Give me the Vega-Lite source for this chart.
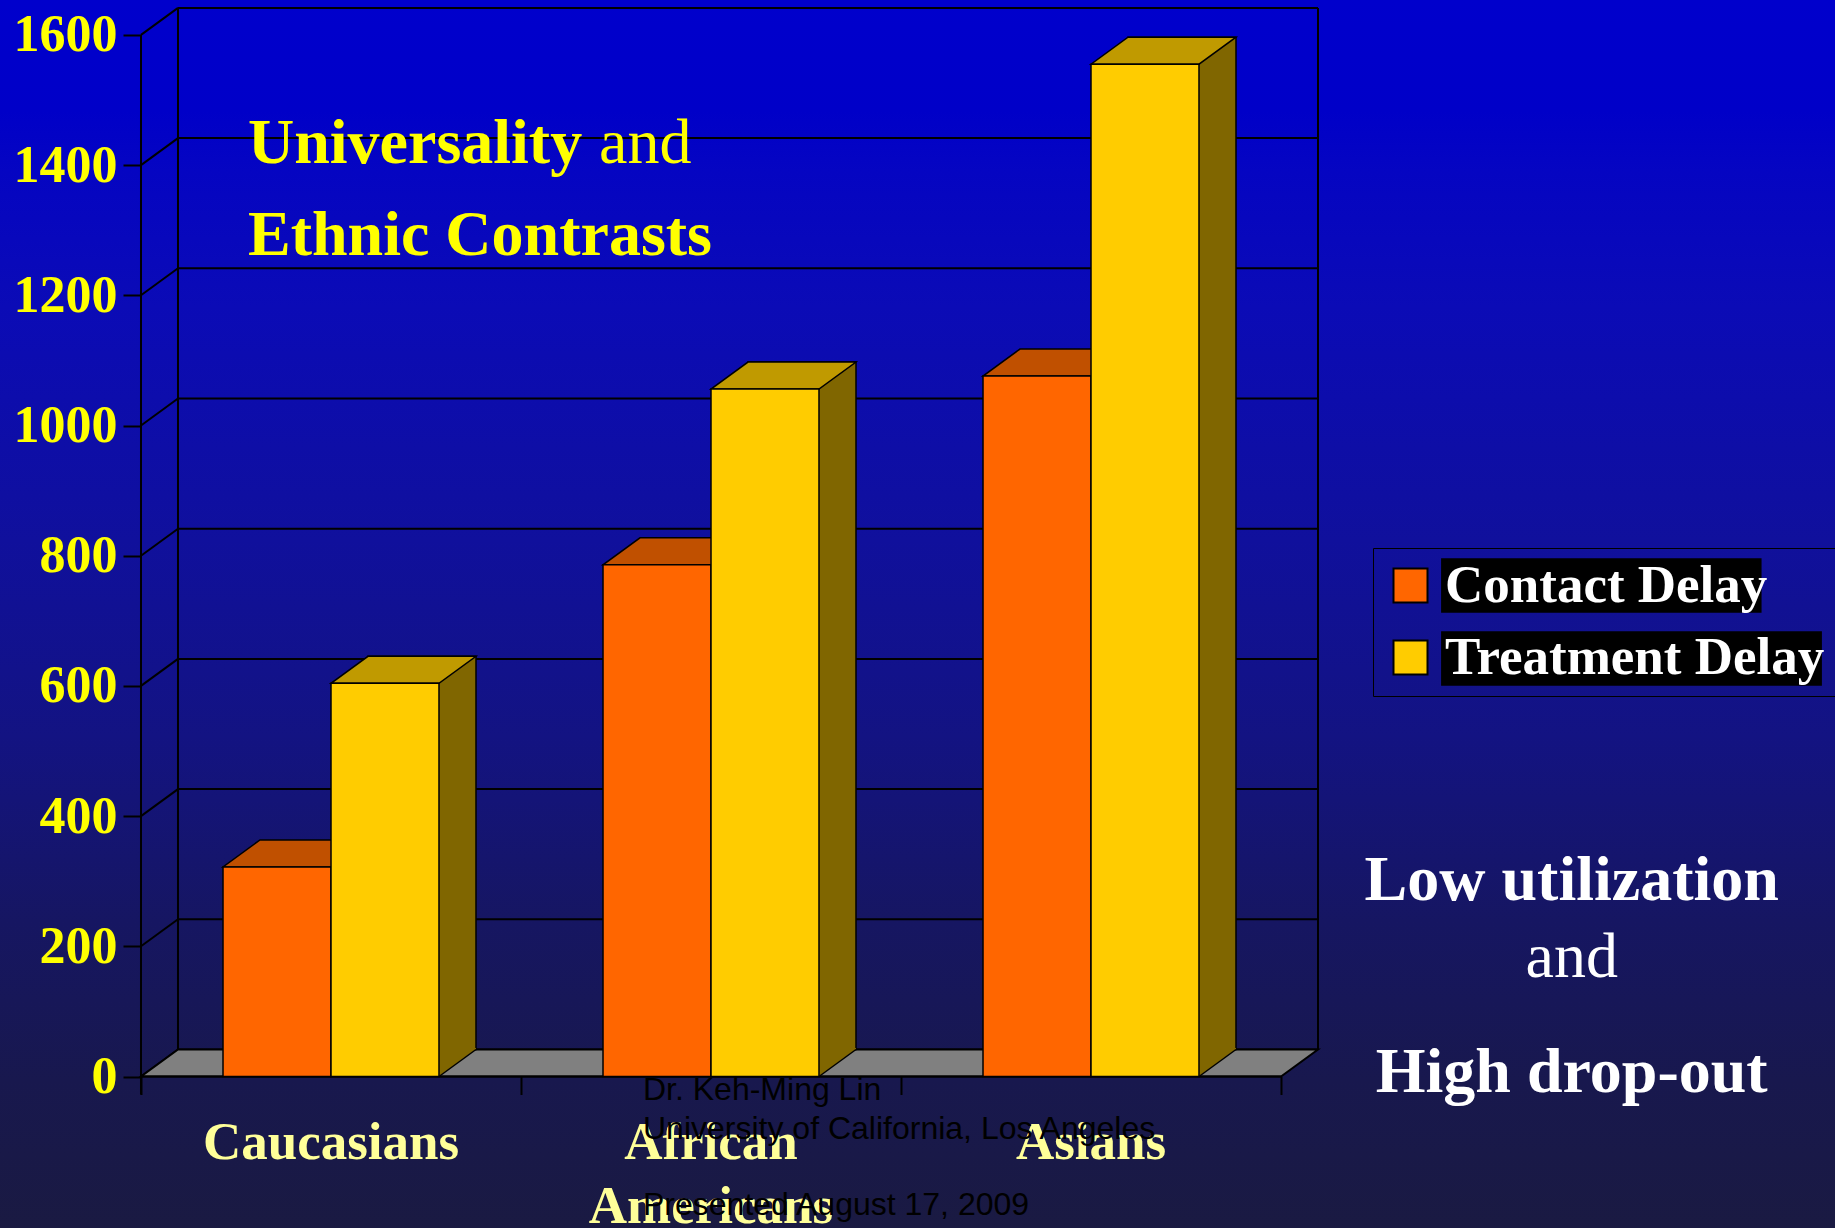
{
  "$schema": "https://vega.github.io/schema/vega-lite/v6.json",
  "width": 1835,
  "height": 1228,
  "autosize": {"type": "none"},
  "padding": 0,
  "background": "#12127a",
  "view": {
    "stroke": null,
    "fill": {
      "gradient": "linear", "x1": 0, "y1": 0, "x2": 0, "y2": 1,
      "stops": [
        {"offset": 0, "color": "#0000cc"},
        {"offset": 0.09, "color": "#0000c8"},
        {"offset": 0.14, "color": "#0505c2"},
        {"offset": 0.25, "color": "#0b0bb6"},
        {"offset": 0.44, "color": "#10109c"},
        {"offset": 0.6, "color": "#131382"},
        {"offset": 0.75, "color": "#161662"},
        {"offset": 0.88, "color": "#18184e"},
        {"offset": 1, "color": "#1a1a42"}
      ]
    }
  },
  "config": {"font": "Liberation Serif"},
  "datasets": {
    "bars": [
      {"group": "Caucasians", "series": "Contact Delay", "value": 322},
      {"group": "Caucasians", "series": "Treatment Delay", "value": 604},
      {"group": "African Americans", "series": "Contact Delay", "value": 786},
      {"group": "African Americans", "series": "Treatment Delay", "value": 1056},
      {"group": "Asians", "series": "Contact Delay", "value": 1076},
      {"group": "Asians", "series": "Treatment Delay", "value": 1555}
    ],
    "ticks": [
      {"v": 0}, {"v": 200}, {"v": 400}, {"v": 600}, {"v": 800},
      {"v": 1000}, {"v": 1200}, {"v": 1400}, {"v": 1600}
    ],
    "series": [
      {"series": "Contact Delay"},
      {"series": "Treatment Delay"}
    ]
  },
  "resolve": {"scale": {"x": "independent"}},
  "layer": [
    {
      "layer": [
        {
          "data": {"name": "ticks"},
          "mark": {"type": "rule", "color": "black", "strokeWidth": 2, "xOffset": 37, "x2Offset": 37, "yOffset": -27},
          "encoding": {
            "x": {"datum": 0, "type": "quantitative", "scale": {"domain": [-0.37105, 4.45789], "nice": false, "zero": false},
              "axis": {"values": [0, 1, 2, 3], "labels": false, "ticks": true, "tickSize": 18, "tickColor": "black", "tickWidth": 2, "domain": false, "grid": false, "title": null, "orient": "bottom", "offset": -151.5}},
            "x2": {"datum": 3},
            "y": {"field": "v", "type": "quantitative", "scale": {"domain": [-232.7, 1653.6], "nice": false, "zero": false},
              "axis": {"values": [0, 200, 400, 600, 800, 1000, 1200, 1400, 1600], "format": "d", "offset": -141, "domain": false, "grid": false, "ticks": true, "tickColor": "black", "tickWidth": 2, "tickSize": 18, "labelPadding": 6, "labelColor": "#ffff00", "labelFont": "Liberation Serif", "labelFontWeight": "bold", "labelFontSize": 52, "labelOverlap": false, "labelBound": false, "labelFlush": false, "title": null}}
          }
        },
        {
          "data": {"name": "ticks"},
          "mark": {"type": "rule", "color": "black", "strokeWidth": 2, "x2Offset": 37, "y2Offset": -27},
          "encoding": {
            "x": {"datum": 0, "type": "quantitative", "scale": {"domain": [-0.37105, 4.45789], "nice": false, "zero": false}},
            "x2": {"datum": 0},
            "y": {"field": "v", "type": "quantitative", "scale": {"domain": [-232.7, 1653.6], "nice": false, "zero": false}},
            "y2": {"field": "v"}
          }
        },
        {
          "data": {"values": [{}]},
          "mark": {"type": "rule", "color": "black", "strokeWidth": 2, "xOffset": 37, "yOffset": -27, "y2Offset": -27},
          "encoding": {
            "x": {"datum": 0, "type": "quantitative", "scale": {"domain": [-0.37105, 4.45789], "nice": false, "zero": false}},
            "y": {"datum": 0, "type": "quantitative", "scale": {"domain": [-232.7, 1653.6], "nice": false, "zero": false}},
            "y2": {"datum": 1600}
          }
        },
        {
          "data": {"values": [{}]},
          "mark": {"type": "rule", "color": "black", "strokeWidth": 2, "xOffset": 37, "yOffset": -27, "y2Offset": -27},
          "encoding": {
            "x": {"datum": 3, "type": "quantitative", "scale": {"domain": [-0.37105, 4.45789], "nice": false, "zero": false}},
            "y": {"datum": 0, "type": "quantitative", "scale": {"domain": [-232.7, 1653.6], "nice": false, "zero": false}},
            "y2": {"datum": 1600}
          }
        },
        {
          "data": {"values": [{}]},
          "mark": {"type": "point", "shape": "M0,0L1140,0L1177,-27L37,-27Z", "size": 4, "filled": true, "fill": "#808080", "stroke": "black", "strokeWidth": 2, "opacity": 1},
          "encoding": {
            "x": {"datum": 0, "type": "quantitative", "scale": {"domain": [-0.37105, 4.45789], "nice": false, "zero": false}},
            "y": {"datum": 0, "type": "quantitative", "scale": {"domain": [-232.7, 1653.6], "nice": false, "zero": false}}
          }
        },
        {
          "data": {"values": [{}]},
          "mark": {"type": "rule", "color": "black", "strokeWidth": 2, "y2Offset": 18},
          "encoding": {
            "x": {"datum": 0, "type": "quantitative", "scale": {"domain": [-0.37105, 4.45789], "nice": false, "zero": false}},
            "y": {"datum": 1600, "type": "quantitative", "scale": {"domain": [-232.7, 1653.6], "nice": false, "zero": false}},
            "y2": {"datum": 0}
          }
        },
        {
          "data": {"values": [{}]},
          "mark": {"type": "rule", "color": "black", "strokeWidth": 2},
          "encoding": {
            "x": {"datum": 0, "type": "quantitative", "scale": {"domain": [-0.37105, 4.45789], "nice": false, "zero": false}},
            "x2": {"datum": 3},
            "y": {"datum": 0, "type": "quantitative", "scale": {"domain": [-232.7, 1653.6], "nice": false, "zero": false}}
          }
        },
        {
          "data": {"values": [{}]},
          "mark": {"type": "text", "text": "Universality", "align": "left", "baseline": "alphabetic", "font": "Liberation Serif", "fontWeight": "bold", "fontSize": 64, "color": "#ffff00"},
          "encoding": {
            "x": {"datum": 0.28158, "type": "quantitative", "scale": {"domain": [-0.37105, 4.45789], "nice": false, "zero": false}},
            "y": {"datum": 1403.3, "type": "quantitative", "scale": {"domain": [-232.7, 1653.6], "nice": false, "zero": false}}
          }
        },
        {
          "data": {"values": [{}]},
          "mark": {"type": "text", "text": "and", "align": "left", "baseline": "alphabetic", "font": "Liberation Serif", "fontWeight": "normal", "fontSize": 64, "color": "#ffff00"},
          "encoding": {
            "x": {"datum": 1.20526, "type": "quantitative", "scale": {"domain": [-0.37105, 4.45789], "nice": false, "zero": false}},
            "y": {"datum": 1403.3, "type": "quantitative", "scale": {"domain": [-232.7, 1653.6], "nice": false, "zero": false}}
          }
        },
        {
          "data": {"values": [{}]},
          "mark": {"type": "text", "text": "Ethnic Contrasts", "align": "left", "baseline": "alphabetic", "font": "Liberation Serif", "fontWeight": "bold", "fontSize": 64, "color": "#ffff00"},
          "encoding": {
            "x": {"datum": 0.28158, "type": "quantitative", "scale": {"domain": [-0.37105, 4.45789], "nice": false, "zero": false}},
            "y": {"datum": 1261.9, "type": "quantitative", "scale": {"domain": [-232.7, 1653.6], "nice": false, "zero": false}}
          }
        },
        {
          "data": {"values": [{}]},
          "mark": {"type": "text", "text": "Low utilization", "align": "center", "baseline": "alphabetic", "font": "Liberation Serif", "fontWeight": "bold", "fontSize": 64, "color": "white"},
          "encoding": {
            "x": {"datum": 3.765, "type": "quantitative", "scale": {"domain": [-0.37105, 4.45789], "nice": false, "zero": false}},
            "y": {"datum": 271.1, "type": "quantitative", "scale": {"domain": [-232.7, 1653.6], "nice": false, "zero": false}}
          }
        },
        {
          "data": {"values": [{}]},
          "mark": {"type": "text", "text": "and", "align": "center", "baseline": "alphabetic", "font": "Liberation Serif", "fontWeight": "normal", "fontSize": 64, "color": "white"},
          "encoding": {
            "x": {"datum": 3.765, "type": "quantitative", "scale": {"domain": [-0.37105, 4.45789], "nice": false, "zero": false}},
            "y": {"datum": 152.8, "type": "quantitative", "scale": {"domain": [-232.7, 1653.6], "nice": false, "zero": false}}
          }
        },
        {
          "data": {"values": [{}]},
          "mark": {"type": "text", "text": "High drop-out", "align": "center", "baseline": "alphabetic", "font": "Liberation Serif", "fontWeight": "bold", "fontSize": 64, "color": "white"},
          "encoding": {
            "x": {"datum": 3.765, "type": "quantitative", "scale": {"domain": [-0.37105, 4.45789], "nice": false, "zero": false}},
            "y": {"datum": -23.8, "type": "quantitative", "scale": {"domain": [-232.7, 1653.6], "nice": false, "zero": false}}
          }
        },
        {
          "data": {"values": [{}]},
          "mark": {"type": "text", "text": ["Dr. Keh-Ming Lin", "University of California, Los Angeles"], "lineHeight": 38.5, "align": "left", "baseline": "alphabetic", "font": "Liberation Sans", "fontWeight": "normal", "fontSize": 32, "color": "black"},
          "encoding": {
            "x": {"datum": 1.32105, "type": "quantitative", "scale": {"domain": [-0.37105, 4.45789], "nice": false, "zero": false}},
            "y": {"datum": -36.1, "type": "quantitative", "scale": {"domain": [-232.7, 1653.6], "nice": false, "zero": false}}
          }
        },
        {
          "data": {"values": [{}]},
          "mark": {"type": "text", "text": "Presented August 17, 2009", "align": "left", "baseline": "alphabetic", "font": "Liberation Sans", "fontWeight": "normal", "fontSize": 32, "color": "black"},
          "encoding": {
            "x": {"datum": 1.32105, "type": "quantitative", "scale": {"domain": [-0.37105, 4.45789], "nice": false, "zero": false}},
            "y": {"datum": -212.7, "type": "quantitative", "scale": {"domain": [-232.7, 1653.6], "nice": false, "zero": false}}
          }
        },
        {
          "data": {"name": "series"},
          "mark": {"type": "point", "filled": true, "color": "black", "opacity": 1, "size": 100},
          "encoding": {
            "x": {"datum": 0, "type": "quantitative", "scale": {"domain": [-0.37105, 4.45789], "nice": false, "zero": false}},
            "y": {"datum": -5000, "type": "quantitative", "scale": {"domain": [-232.7, 1653.6], "nice": false, "zero": false}},
            "shape": {
              "field": "series", "type": "nominal",
              "scale": {"range": [
                "M-1.0588,-1.6L-1.0588,1.6M1.8,-1.6L20.65,-1.6L20.65,1.6L1.8,1.6Z",
                "M-1.0588,-1.6L-1.0588,1.6M1.8,-1.6L24.2,-1.6L24.2,1.6L1.8,1.6Z"
              ]},
              "legend": {"title": null, "orient": "none", "legendX": 1373, "legendY": 548, "symbolSize": 1156, "symbolFillColor": "black", "symbolStrokeWidth": 0, "labelFont": "Liberation Serif", "labelFontWeight": "bold", "labelFontSize": 53, "labelOpacity": 0, "labelOffset": 8, "labelLimit": 800, "rowPadding": 18, "padding": 11, "zindex": 0}
            }
          }
        }
      ]
    },
    {
      "layer": [
        {
          "data": {"name": "bars"},
          "transform": [{"filter": "datum.series === 'Treatment Delay'"}],
          "mark": {"type": "bar", "width": {"band": 0.5}, "xOffset": 91, "yOffset": -27, "y2Offset": -27, "color": "#806600", "stroke": "black", "strokeWidth": 1.5},
          "encoding": {
            "x": {"field": "group", "type": "nominal", "scale": {"domain": ["Caucasians", "African Americans", "Asians"], "range": [141, 1281], "paddingInner": 0.4316, "paddingOuter": 0.2158}},
            "y": {"field": "value", "type": "quantitative", "scale": {"domain": [-232.7, 1653.6], "nice": false, "zero": false}},
            "y2": {"datum": 0}
          }
        },
        {
          "data": {"name": "bars"},
          "transform": [{"filter": "datum.series === 'Treatment Delay'"}],
          "mark": {"type": "point", "shape": "M108,-28.5L145,-28.5L145,-27L108,0Z", "size": 4, "filled": true, "color": "#806600", "strokeOpacity": 0, "opacity": 1},
          "encoding": {
            "x": {"field": "group", "type": "nominal", "scale": {"domain": ["Caucasians", "African Americans", "Asians"], "range": [141, 1281], "paddingInner": 0.4316, "paddingOuter": 0.2158}},
            "y": {"datum": 0, "type": "quantitative", "scale": {"domain": [-232.7, 1653.6], "nice": false, "zero": false}}
          }
        },
        {
          "data": {"name": "bars"},
          "transform": [{"filter": "datum.series === 'Treatment Delay'"}],
          "mark": {"type": "point", "shape": "M108,0L145,-27", "size": 4, "filled": false, "color": "black", "strokeWidth": 1.5, "opacity": 1},
          "encoding": {
            "x": {"field": "group", "type": "nominal", "scale": {"domain": ["Caucasians", "African Americans", "Asians"], "range": [141, 1281], "paddingInner": 0.4316, "paddingOuter": 0.2158}},
            "y": {"datum": 0, "type": "quantitative", "scale": {"domain": [-232.7, 1653.6], "nice": false, "zero": false}}
          }
        },
        {
          "data": {"name": "bars"},
          "transform": [{"filter": "datum.series === 'Contact Delay'"}],
          "mark": {"type": "point", "shape": "M-108,0L0,0L37,-27L-71,-27Z", "size": 4, "filled": true, "fill": "#c05000", "stroke": "black", "strokeWidth": 1.5, "opacity": 1},
          "encoding": {
            "x": {"field": "group", "type": "nominal", "scale": {"domain": ["Caucasians", "African Americans", "Asians"], "range": [141, 1281], "paddingInner": 0.4316, "paddingOuter": 0.2158}},
            "y": {"field": "value", "type": "quantitative", "scale": {"domain": [-232.7, 1653.6], "nice": false, "zero": false}}
          }
        },
        {
          "data": {"name": "bars"},
          "transform": [{"filter": "datum.series === 'Treatment Delay'"}],
          "mark": {"type": "point", "shape": "M0,0L108,0L145,-27L37,-27Z", "size": 4, "filled": true, "fill": "#c09a00", "stroke": "black", "strokeWidth": 1.5, "opacity": 1},
          "encoding": {
            "x": {"field": "group", "type": "nominal", "scale": {"domain": ["Caucasians", "African Americans", "Asians"], "range": [141, 1281], "paddingInner": 0.4316, "paddingOuter": 0.2158}},
            "y": {"field": "value", "type": "quantitative", "scale": {"domain": [-232.7, 1653.6], "nice": false, "zero": false}}
          }
        },
        {
          "data": {"name": "bars"},
          "mark": {"type": "bar", "stroke": "black", "strokeWidth": 1.5, "opacity": 1},
          "encoding": {
            "x": {"field": "group", "type": "nominal", "scale": {"domain": ["Caucasians", "African Americans", "Asians"], "range": [141, 1281], "paddingInner": 0.4316, "paddingOuter": 0.2158},
              "axis": {"title": null, "orient": "bottom", "offset": -151.5, "domain": false, "ticks": false, "tickSize": 0, "grid": false, "labelAngle": 0, "labelAlign": "center", "labelColor": "#ffff99", "labelFont": "Liberation Serif", "labelFontWeight": "bold", "labelFontSize": 53, "labelBaseline": "alphabetic", "labelPadding": 81.5, "labelLineHeight": 64, "labelLimit": 600, "labelOverlap": false, "labelBound": false, "labelFlush": false,
                "labelExpr": "datum.value == 'African Americans' ? ['African', 'Americans'] : datum.label"}},
            "xOffset": {"field": "series", "type": "nominal", "scale": {"domain": ["Contact Delay", "Treatment Delay"], "paddingInner": 0, "paddingOuter": 0}},
            "y": {"field": "value", "type": "quantitative", "scale": {"domain": [-232.7, 1653.6], "nice": false, "zero": false}},
            "y2": {"datum": 0},
            "color": {"field": "series", "type": "nominal",
              "scale": {"domain": ["Contact Delay", "Treatment Delay"], "range": ["#ff6600", "#ffcc00"]},
              "legend": {"title": null, "orient": "none", "legendX": 1373, "legendY": 548, "symbolType": "square", "symbolSize": 1156, "symbolStrokeColor": "black", "symbolStrokeWidth": 2, "labelFont": "Liberation Serif", "labelFontWeight": "bold", "labelFontSize": 53, "labelColor": "white", "labelOffset": 8, "labelLimit": 800, "rowPadding": 18, "padding": 11, "strokeColor": "black", "zindex": 1}}
          }
        }
      ]
    }
  ]
}
